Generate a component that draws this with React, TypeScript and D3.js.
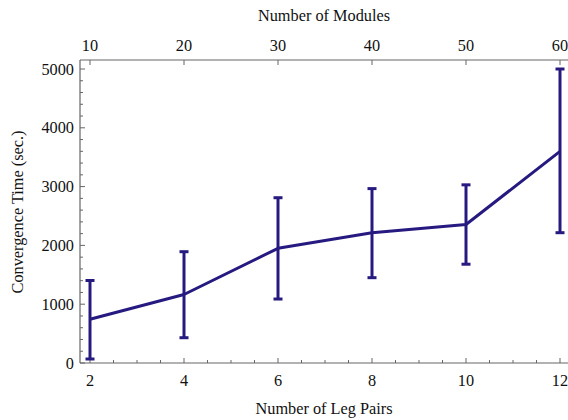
import React from "react";
import * as d3 from "d3";

const legPairs = [2, 4, 6, 8, 10, 12];
const meanTime = [743, 1165, 1951, 2214, 2355, 3600];
const lowTime = [68, 430, 1088, 1451, 1680, 2216];
const highTime = [1403, 1893, 2811, 2966, 3030, 5000];
const yTicks = [0, 1000, 2000, 3000, 4000, 5000];
const xTicks = [2, 4, 6, 8, 10, 12];
const topTicks = [10, 20, 30, 40, 50, 60];

const W = 568, H = 420;
const left = 80, right = 568, top = 60, bottom = 363;
const color = "#261a80";
const axisColor = "#666";
const font = "'Liberation Serif', 'Times New Roman', serif";

export default function App() {
  const x = d3.scaleLinear().domain([2, 12]).range([90, 560]);
  const xTop = d3.scaleLinear().domain([10, 60]).range([90, 560]);
  const y = d3.scaleLinear().domain([0, 5000]).range([363, 69]);
  const line = d3.line<number>().x((_, i) => x(legPairs[i])).y((d) => y(d));
  const minorX = d3.range(2, 12.01, 0.5).filter((v) => v % 2 !== 0);
  const minorY = d3.range(200, 5100, 200).filter((v) => v % 1000 !== 0);
  return (
    <svg width={W} height={H} style={{ position: "absolute", left: 0, top: 0, background: "#fff" }}>
      <g fontFamily={font} fill="#111" fontSize={16.3}>
        <line x1={left} x2={right} y1={bottom} y2={bottom} stroke={axisColor} strokeWidth={1.2} />
        <line x1={left} x2={right} y1={top} y2={top} stroke={axisColor} strokeWidth={1.2} />
        <line x1={left} x2={left} y1={top} y2={bottom} stroke={axisColor} strokeWidth={1.2} />
        {xTicks.map((t) => (
          <g key={"x" + t}>
            <line x1={x(t)} x2={x(t)} y1={bottom} y2={bottom - 5} stroke={axisColor} />
            <text x={x(t)} y={386} textAnchor="middle">{t}</text>
          </g>
        ))}
        {minorX.map((t) => (
          <line key={"mx" + t} x1={x(t)} x2={x(t)} y1={bottom} y2={bottom - 3} stroke={axisColor} />
        ))}
        {topTicks.map((t) => (
          <g key={"t" + t}>
            <line x1={xTop(t)} x2={xTop(t)} y1={top} y2={top + 5} stroke={axisColor} />
            <text x={xTop(t)} y={51} textAnchor="middle">{t}</text>
          </g>
        ))}
        {yTicks.map((t) => (
          <g key={"y" + t}>
            <line x1={left} x2={left + 5} y1={y(t)} y2={y(t)} stroke={axisColor} />
            <text x={74} y={y(t) + 5.5} textAnchor="end">{t}</text>
          </g>
        ))}
        {minorY.map((t) => (
          <line key={"my" + t} x1={left} x2={left + 3} y1={y(t)} y2={y(t)} stroke={axisColor} />
        ))}
        <text x={324} y={21} textAnchor="middle">Number of Modules</text>
        <text x={324} y={414} textAnchor="middle">Number of Leg Pairs</text>
        <text transform="translate(23,212) rotate(-90)" textAnchor="middle">
          Convergence Time (sec.)
        </text>
      </g>
      <path d={line(meanTime) || ""} fill="none" stroke={color} strokeWidth={3} strokeLinejoin="round" />
      {legPairs.map((p, i) => (
        <g key={"e" + p} stroke={color}>
          <line x1={x(p)} x2={x(p)} y1={y(lowTime[i])} y2={y(highTime[i])} strokeWidth={3} />
          <line x1={x(p) - 4.5} x2={x(p) + 4.5} y1={y(lowTime[i])} y2={y(lowTime[i])} strokeWidth={3} />
          <line x1={x(p) - 4.5} x2={x(p) + 4.5} y1={y(highTime[i])} y2={y(highTime[i])} strokeWidth={3} />
        </g>
      ))}
    </svg>
  );
}
